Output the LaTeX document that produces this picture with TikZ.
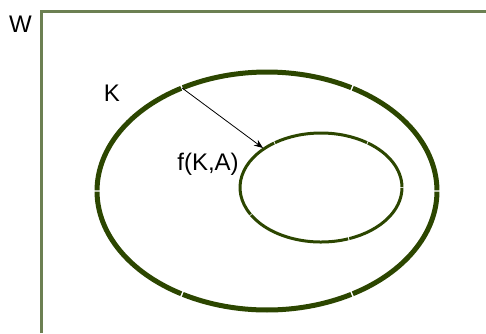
\documentclass[tikz,border=0pt]{standalone}
\usepackage{fontspec}
\setmainfont{Liberation Sans}
\usetikzlibrary{arrows.meta}
\definecolor{frameol}{RGB}{108,128,82}
\definecolor{dkgreen}{RGB}{44,70,0}
\begin{document}
\begin{tikzpicture}[x=1pt,y=-1pt,
  lbl/.style={font=\fontsize{24}{26}\selectfont, inner sep=0pt},
  frameline/.style={draw=frameol, line width=3pt},
  outerarc/.style={draw=dkgreen, line width=5pt, line cap=butt},
  innerarc/.style={draw=dkgreen, line width=3pt, line cap=butt},
  ptr/.style={draw=black, line width=0.8pt, -{Stealth[length=9pt,width=7pt]}}]
\useasboundingbox (0,0) rectangle (486,333);
% frame
\draw[frameline] (41,333) -- (41,11) -- (486,11);
% outer ellipse (6 arcs, small gaps)
\foreach \a in {0,60,...,300}{
  \draw[outerarc] ({267+170*cos(\a+0.3)},{191-119*sin(\a+0.3)})
    arc[start angle=\a+0.3, end angle=\a+59.7, x radius=170, y radius=-119];
}
% inner ellipse (5 arcs, small gaps)
\foreach \s/\e in {0/55,55/125,125/210,210/290,290/360}{
  \draw[innerarc] ({321+81*cos(\s+0.4)},{187.5-54.5*sin(\s+0.4)})
    arc[start angle=\s+0.4, end angle=\e-0.4, x radius=81, y radius=-54.5];
}
\coordinate (kpt) at ({267+170*cos(120)},{191-119*sin(120)});
\coordinate (fpt) at (263,148);
\draw[ptr] (kpt) -- (fpt);
\node[lbl] (W) at (20.5,24.5) {W};
\node[lbl] (K) at (112,93) {K};
\node[lbl] (F) at (208,164) {f(K,A)};
\end{tikzpicture}
\end{document}
